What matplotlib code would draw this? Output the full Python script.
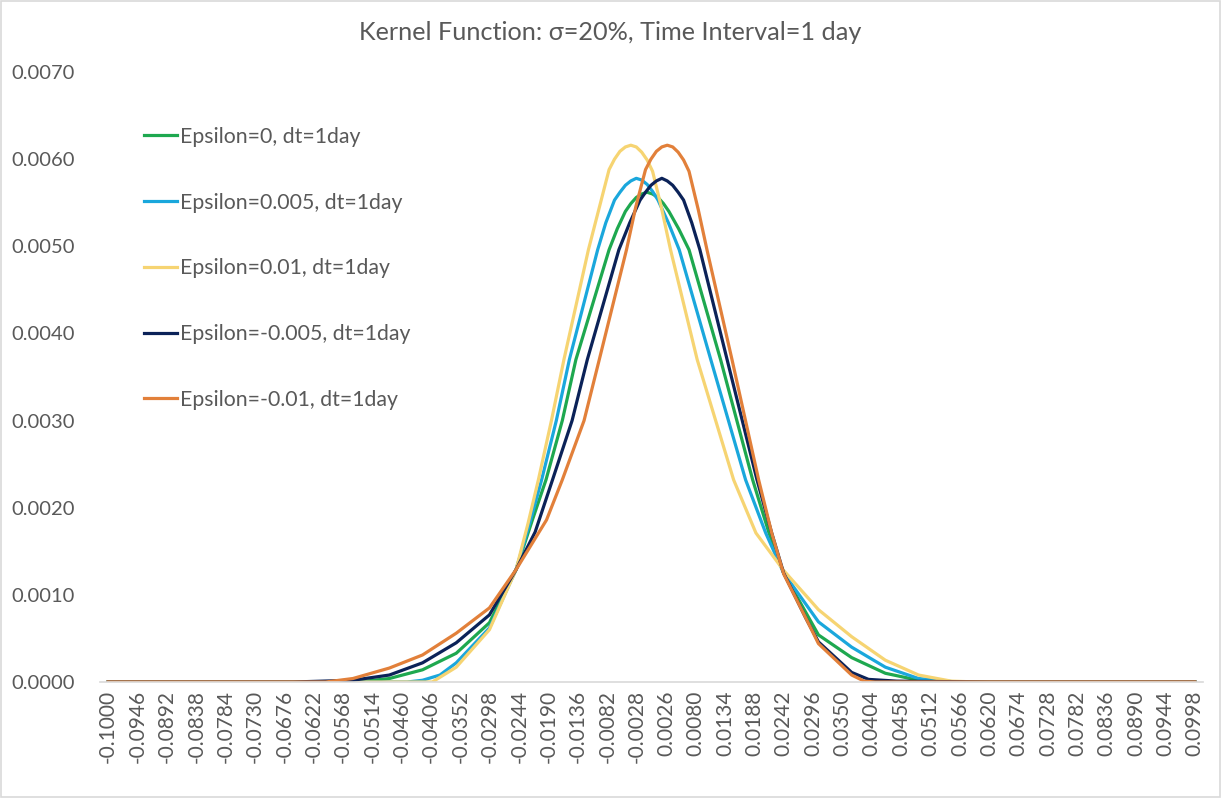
import numpy as np
import matplotlib
matplotlib.use('Agg')
import matplotlib.pyplot as plt
from matplotlib.patches import Rectangle

plt.rcParams['font.family'] = ['Lato', 'DejaVu Sans']

# values (x = return bucket, y = probability)
x_eps0 = [-0.1000, -0.0540, -0.0483, -0.0422, -0.0360, -0.0299, -0.0250, -0.0220, -0.0195, -0.0165,
          -0.0140, -0.0079, -0.0064, -0.0049, -0.0039, -0.0029, -0.0019, -0.0009, 0.0001, 0.0011,
          0.0021, 0.0031, 0.0049, 0.0068, 0.0126, 0.0185, 0.0215, 0.0242, 0.0306, 0.0367,
          0.0429, 0.0490, 0.0550, 0.0998]
y_eps0 = [0, 0, 0.00004, 0.00014, 0.00033, 0.00068, 0.00129, 0.00186, 0.00232, 0.00300,
          0.00370, 0.00496, 0.00520, 0.00540, 0.00549, 0.00556, 0.00560, 0.00562, 0.00560, 0.00556,
          0.00549, 0.00540, 0.00520, 0.00496, 0.00370, 0.00232, 0.00171, 0.00125, 0.00054, 0.00028,
          0.00010, 0.00002, 0, 0]

x_eps005 = [-0.1000, -0.0450, -0.0422, -0.0390, -0.0360, -0.0299, -0.0250, -0.0225, -0.0203, -0.0176,
            -0.0152, -0.0100, -0.0085, -0.0069, -0.0059, -0.0049, -0.0039, -0.0029, -0.0019, -0.0009,
            0.0001, 0.0011, 0.0030, 0.0050, 0.0108, 0.0172, 0.0209, 0.0242, 0.0306, 0.0367,
            0.0429, 0.0490, 0.0560, 0.0998]
y_eps005 = [0, 0, 0.00002, 0.00008, 0.00022, 0.00062, 0.00129, 0.00182, 0.00232, 0.00300,
            0.00370, 0.00496, 0.00527, 0.00553, 0.00562, 0.00570, 0.00575, 0.00578, 0.00576, 0.00571,
            0.00563, 0.00553, 0.00527, 0.00496, 0.00370, 0.00232, 0.00171, 0.00125, 0.00069, 0.00040,
            0.00017, 0.00004, 0, 0]

x_eps01 = [-0.1000, -0.0404, -0.0360, -0.0299, -0.0250, -0.0228, -0.0209, -0.0185, -0.0162, -0.0117,
           -0.0098, -0.0079, -0.0069, -0.0059, -0.0049, -0.0039, -0.0029, -0.0019, -0.0009, 0.0001,
           0.0017, 0.0034, 0.0083, 0.0150, 0.0191, 0.0242, 0.0306, 0.0367, 0.0429, 0.0490,
           0.0550, 0.0600, 0.0998]
y_eps01 = [0, 0, 0.00017, 0.00060, 0.00129, 0.00182, 0.00232, 0.00300, 0.00370, 0.00496,
           0.00542, 0.00588, 0.00600, 0.00609, 0.00614, 0.00616, 0.00614, 0.00608, 0.00599, 0.00586,
           0.00545, 0.00496, 0.00370, 0.00232, 0.00171, 0.00128, 0.00083, 0.00052, 0.00025, 0.00008,
           0.00001, 0, 0]

x_epsm005 = [-0.1000, -0.0660, -0.0550, -0.0483, -0.0422, -0.0360, -0.0299, -0.0250, -0.0215, -0.0183,
             -0.0147, -0.0119, -0.0061, -0.0041, -0.0022, -0.0012, -0.0002, 0.0008, 0.0018, 0.0028,
             0.0038, 0.0048, 0.0058, 0.0073, 0.0088, 0.0138, 0.0193, 0.0220, 0.0242, 0.0283,
             0.0306, 0.0367, 0.0398, 0.0450, 0.0620, 0.0998]
y_epsm005 = [0, 0, 0.00002, 0.00008, 0.00022, 0.00045, 0.00077, 0.00129, 0.00172, 0.00232,
             0.00300, 0.00370, 0.00496, 0.00527, 0.00553, 0.00562, 0.00570, 0.00575, 0.00578, 0.00575,
             0.00570, 0.00562, 0.00553, 0.00527, 0.00496, 0.00370, 0.00232, 0.00171, 0.00125, 0.00073,
             0.00046, 0.00011, 0.00003, 0.00001, 0, 0]

x_epsm01 = [-0.1000, -0.0600, -0.0550, -0.0483, -0.0422, -0.0360, -0.0299, -0.0250, -0.0194, -0.0165,
            -0.0125, -0.0097, -0.0047, -0.0030, -0.0012, -0.0002, 0.0008, 0.0018, 0.0028, 0.0038,
            0.0048, 0.0058, 0.0068, 0.0085, 0.0101, 0.0147, 0.0196, 0.0220, 0.0242, 0.0283,
            0.0306, 0.0367, 0.0390, 0.0410, 0.0998]
y_epsm01 = [0, 0, 0.00004, 0.00016, 0.00031, 0.00056, 0.00085, 0.00129, 0.00186, 0.00232,
            0.00300, 0.00370, 0.00496, 0.00545, 0.00588, 0.00600, 0.00609, 0.00614, 0.00616, 0.00614,
            0.00608, 0.00599, 0.00586, 0.00542, 0.00496, 0.00370, 0.00232, 0.00171, 0.00124, 0.00073,
            0.00044, 0.00008, 0.00001, 0, 0]

series = [
    (x_eps0, y_eps0, 'Epsilon=0, dt=1day', '#1EA84F'),
    (x_eps005, y_eps005, 'Epsilon=0.005, dt=1day', '#1AA7DC'),
    (x_eps01, y_eps01, 'Epsilon=0.01, dt=1day', '#F6D472'),
    (x_epsm005, y_epsm005, 'Epsilon=-0.005, dt=1day', '#0B2258'),
    (x_epsm01, y_epsm01, 'Epsilon=-0.01, dt=1day', '#E2803A'),
]

xtick_vals = [-0.1 + 0.0054 * k for k in range(38)]
ytick_vals = [0.001 * k for k in range(8)]

fig = plt.figure(figsize=(12.21, 7.98), dpi=100)
ax = fig.add_axes([100 / 1221, 1 - 682 / 798, 1103 / 1221, 610 / 798])

for xs, ys, lab, col in series:
    ax.plot(xs, ys, color=col, lw=2.3, label=lab, solid_joinstyle='round')

ax.set_xlim(-0.1015, 0.1013)
ax.set_ylim(0, 0.007)
ax.set_xticks(xtick_vals)
ax.set_xticklabels(['%.4f' % v for v in xtick_vals], rotation=90, fontsize=15, color='#595959')
ax.set_yticks(ytick_vals)
ax.set_yticklabels(['%.4f' % v for v in ytick_vals], fontsize=14.5, color='#595959')
ax.tick_params(axis='both', length=0)
ax.tick_params(axis='y', pad=18)
ax.tick_params(axis='x', pad=6)
for s in ['top', 'right', 'left']:
    ax.spines[s].set_visible(False)
ax.spines['bottom'].set_color('#D9D9D9')
ax.spines['bottom'].set_linewidth(1.2)

fig.text(0.5, 1 - 32 / 798, 'Kernel Function: σ=20%, Time Interval=1 day',
         ha='center', va='center', fontsize=18.2, color='#595959')

leg = ax.legend(loc='upper left', bbox_to_anchor=(0.04, 0.91), frameon=False,
                fontsize=15.3, handlelength=1.55, handletextpad=0.15, labelspacing=2.15,
                borderpad=0, borderaxespad=0)
for t in leg.get_texts():
    t.set_color('#595959')

fig.patches.append(Rectangle((0.001, 0.001), 0.998, 0.998, transform=fig.transFigure,
                             fill=False, edgecolor='#D9D9D9', lw=1.2))

fig.savefig('out.png', dpi=100)
